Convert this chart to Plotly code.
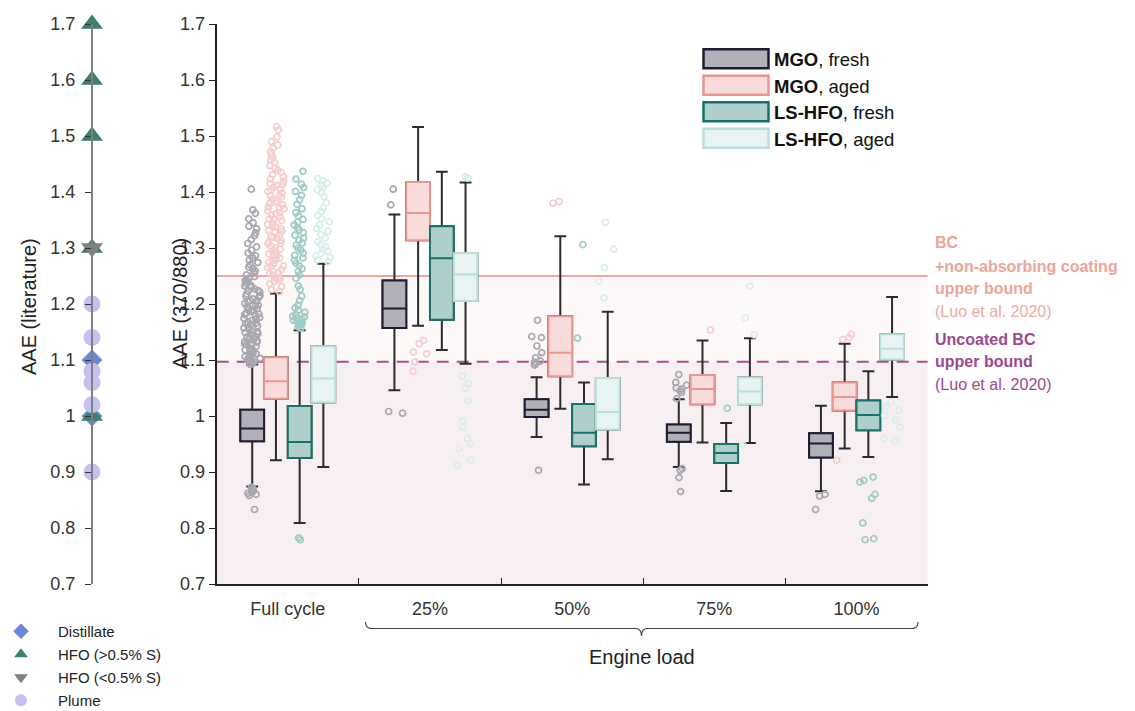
import plotly.graph_objects as go

# ---------------- data ----------------
categories = ["Full cycle", "25%", "50%", "75%", "100%"]
series_names = ["MGO fresh", "MGO aged", "LS-HFO fresh", "LS-HFO aged"]

mgo_fresh_q1 = [0.955, 1.157, 0.998, 0.954, 0.926]
mgo_fresh_med = [0.9775, 1.192, 1.011, 0.970, 0.951]
mgo_fresh_q3 = [1.011, 1.242, 1.030, 0.985, 0.969]
mgo_fresh_lo = [0.874, 1.046, 0.9625, 0.909, 0.8655]
mgo_fresh_hi = [1.092, 1.360, 1.069, 1.030, 1.0185]

mgo_aged_q1 = [1.031, 1.314, 1.071, 1.021, 1.010]
mgo_aged_med = [1.062, 1.3625, 1.113, 1.048, 1.034]
mgo_aged_q3 = [1.105, 1.418, 1.178, 1.073, 1.060]
mgo_aged_lo = [0.921, 1.161, 1.013, 0.9525, 0.942]
mgo_aged_hi = [1.2186, 1.516, 1.321, 1.1346, 1.129]

ls_fresh_q1 = [0.925, 1.172, 0.946, 0.916, 0.9745]
ls_fresh_med = [0.9536, 1.2816, 0.970, 0.934, 1.002]
ls_fresh_q3 = [1.018, 1.339, 1.0214, 0.950, 1.0275]
ls_fresh_lo = [0.809, 1.118, 0.8775, 0.866, 0.927]
ls_fresh_hi = [1.153, 1.436, 1.0596, 0.9875, 1.080]

ls_aged_q1 = [1.024, 1.2054, 0.9757, 1.021, 1.1007]
ls_aged_med = [1.0668, 1.2525, 1.007, 1.0436, 1.120]
ls_aged_q3 = [1.1245, 1.291, 1.068, 1.0686, 1.146]
ls_aged_lo = [0.909, 1.0935, 0.9227, 0.952, 1.034]
ls_aged_hi = [1.272, 1.4168, 1.186, 1.1388, 1.2125]

# outliers
mgo_fresh_out = {
    "Full cycle": [1.092, 1.094, 1.096, 1.097, 1.099, 1.101, 1.103, 1.104, 1.106, 1.108, 1.110,
                   1.111, 1.113, 1.116, 1.118, 1.119, 1.121, 1.124, 1.126, 1.127, 1.129, 1.132,
                   1.133, 1.134, 1.137, 1.139, 1.141, 1.142, 1.145, 1.147, 1.149, 1.150, 1.152,
                   1.155, 1.157, 1.158, 1.161, 1.163, 1.165, 1.166, 1.168, 1.171, 1.173, 1.174,
                   1.176, 1.179, 1.181, 1.182, 1.184, 1.187, 1.189, 1.190, 1.192, 1.195, 1.197,
                   1.198, 1.201, 1.204, 1.205, 1.206, 1.209, 1.212, 1.214, 1.215, 1.218, 1.221,
                   1.223, 1.224, 1.227, 1.230, 1.232, 1.233, 1.236, 1.239, 1.241, 1.242, 1.246,
                   1.249, 1.252, 1.256, 1.259, 1.263, 1.266, 1.270, 1.274, 1.278, 1.282, 1.286,
                   1.291, 1.296, 1.302, 1.308, 1.315, 1.322, 1.327, 1.334, 1.339, 1.345, 1.352,
                   1.362, 1.368, 1.405,
                   0.873, 0.870, 0.868, 0.866, 0.864, 0.862, 0.860, 0.858, 0.833],
    "25%": [1.405, 1.377, 1.008, 1.005],
    "50%": [1.171, 1.142, 1.140, 1.125, 1.113, 1.104, 1.098, 1.096, 1.094, 1.091, 0.903],
    "75%": [1.074, 1.060, 1.055, 1.050, 1.048, 1.045, 1.042, 1.031, 0.906, 0.903, 0.890, 0.865],
    "100%": [0.860, 0.857, 0.833],
}
mgo_aged_out = {
    "Full cycle": [1.222, 1.226, 1.231, 1.236, 1.240, 1.244, 1.246, 1.247, 1.251, 1.254, 1.256,
                   1.258, 1.261, 1.265, 1.267, 1.268, 1.272, 1.275, 1.277, 1.279, 1.282, 1.286,
                   1.288, 1.289, 1.293, 1.296, 1.298, 1.300, 1.303, 1.307, 1.309, 1.310, 1.314,
                   1.317, 1.319, 1.321, 1.324, 1.328, 1.330, 1.331, 1.335, 1.338, 1.340, 1.342,
                   1.345, 1.349, 1.351, 1.352, 1.356, 1.359, 1.361, 1.363, 1.366, 1.370, 1.372,
                   1.373, 1.377, 1.380, 1.382, 1.384, 1.387, 1.391, 1.393, 1.394, 1.398, 1.401,
                   1.403, 1.405, 1.408, 1.412, 1.414, 1.415, 1.419, 1.423, 1.427, 1.431, 1.435,
                   1.439, 1.443, 1.447, 1.452, 1.457, 1.462, 1.467, 1.472, 1.478, 1.484, 1.490,
                   1.498, 1.511, 1.517],
    "25%": [1.135, 1.129, 1.114, 1.111, 1.0965, 1.080],
    "50%": [1.383, 1.380],
    "75%": [1.1536],
    "100%": [1.146, 1.140, 1.137, 0.921],
}
ls_fresh_out = {
    "Full cycle": [1.157, 1.159, 1.160, 1.163, 1.164, 1.166, 1.169, 1.171, 1.172, 1.175, 1.177,
                   1.178, 1.181, 1.185, 1.189, 1.193, 1.198, 1.206, 1.214, 1.226, 1.232, 1.246,
                   1.252, 1.258, 1.263, 1.268, 1.273, 1.278, 1.282, 1.287, 1.291, 1.296, 1.300,
                   1.305, 1.309, 1.314, 1.318, 1.323, 1.327, 1.332, 1.336, 1.341, 1.346, 1.351,
                   1.357, 1.363, 1.370, 1.378, 1.386, 1.394, 1.401, 1.408, 1.414, 1.423, 1.437,
                   0.782, 0.779],
    "25%": [],
    "50%": [1.306, 1.139],
    "75%": [1.0138],
    "100%": [0.891, 0.885, 0.882, 0.860, 0.853, 0.809, 0.781, 0.779],
}
ls_aged_out = {
    "Full cycle": [1.276, 1.279, 1.283, 1.286, 1.290, 1.294, 1.298, 1.302, 1.306, 1.311, 1.318,
                   1.324, 1.330, 1.335, 1.341, 1.347, 1.352, 1.358, 1.365, 1.372, 1.381, 1.392,
                   1.399, 1.404, 1.408, 1.412, 1.416, 1.420, 1.424],
    "25%": [1.427, 1.425, 1.071, 1.058, 1.049, 1.027, 0.991, 0.980, 0.960, 0.951, 0.942,
            0.921, 0.912],
    "50%": [1.346, 1.298, 1.265, 1.241, 1.211],
    "75%": [1.2316, 1.175, 1.145, 0.948],
    "100%": [1.025, 1.016, 1.010, 1.001, 0.994, 0.980, 0.960, 0.955],
}

# literature AAE values (left panel)
lit_distillate = [1.1, 1.0]
lit_hfo_high = [1.7, 1.6, 1.5, 1.3, 1.0]
lit_hfo_low = [1.3]
lit_plume = [1.2, 1.14, 1.08, 1.06, 1.02, 0.9]

bound_coated = 1.25
bound_uncoated = 1.097

tick_vals = [0.7, 0.8, 0.9, 1.0, 1.1, 1.2, 1.3, 1.4, 1.5, 1.6, 1.7]
tick_text = ["0.7", "0.8", "0.9", "1", "1.1", "1.2", "1.3", "1.4", "1.5", "1.6", "1.7"]

# ---------------- styles ----------------
# the page body keeps an 8px margin, so the figure is 8px smaller and offset
OFF = 8
W, H = 1135 - OFF, 711 - OFF
FONT = "Liberation Sans, Arial, Helvetica, sans-serif"
fills = ["#b1b0b8", "#f8dcdc", "#afcfcc", "#e7f4f3"]
edges = ["#1f1b33", "#ea968f", "#17736a", "#b9dfdb"]
point_cols = ["#a8a7af", "#f6cdcd", "#a0cac6", "#d8eeec"]
whisker_col = "#2b2b2b"


def px(x):
    return (x - OFF) / W


def py(y):
    return 1 - (y - OFF) / H


stats = [
    (mgo_fresh_q1, mgo_fresh_med, mgo_fresh_q3, mgo_fresh_lo, mgo_fresh_hi, mgo_fresh_out),
    (mgo_aged_q1, mgo_aged_med, mgo_aged_q3, mgo_aged_lo, mgo_aged_hi, mgo_aged_out),
    (ls_fresh_q1, ls_fresh_med, ls_fresh_q3, ls_fresh_lo, ls_fresh_hi, ls_fresh_out),
    (ls_aged_q1, ls_aged_med, ls_aged_q3, ls_aged_lo, ls_aged_hi, ls_aged_out),
]

fig = go.Figure()

for i, (q1, med, q3, lo, hi, outs) in enumerate(stats):
    og = series_names[i]
    fig.add_trace(go.Box(
        x=categories, q1=q1, median=med, q3=q3, lowerfence=lo, upperfence=hi,
        offsetgroup=og, fillcolor=fills[i], line=dict(color=whisker_col, width=2),
        whiskerwidth=0.5, boxpoints=False, showlegend=False, hoverinfo="skip",
        xaxis="x", yaxis="y"))
    fig.add_trace(go.Box(
        x=categories, q1=q1, median=med, q3=q3, lowerfence=q1, upperfence=q3,
        offsetgroup=og, fillcolor=fills[i], line=dict(color=edges[i], width=2),
        whiskerwidth=0, boxpoints=False, showlegend=False, hoverinfo="skip",
        xaxis="x", yaxis="y"))
    ox, oy = [], []
    for c in categories:
        ox += [c] * len(outs[c])
        oy += outs[c]
    fig.add_trace(go.Box(
        x=ox, y=oy, offsetgroup=og, boxpoints="all", jitter=0.75, pointpos=0,
        fillcolor="rgba(0,0,0,0)", line=dict(color="rgba(0,0,0,0)", width=0),
        marker=dict(symbol="circle-open", size=6, color=point_cols[i], line=dict(width=1.7)),
        showlegend=False, hoverinfo="skip", xaxis="x", yaxis="y"))

# literature panel
lit = [
    ("Distillate", lit_distillate, "diamond", "#6a87d8", 16),
    ("HFO (>0.5% S)", lit_hfo_high, "triangle-up", "#3c7f6d", 19),
    ("HFO (<0.5% S)", lit_hfo_low, "triangle-down", "#7f7f7f", 19),
    ("Plume", lit_plume, "circle", "#c4c0ef", 17),
]
for name, vals, sym, col, sz in lit:
    fig.add_trace(go.Scatter(
        x=[0] * len(vals), y=vals, mode="markers", name=name, legendgroup=name,
        marker=dict(symbol=sym, color=col, size=sz, line=dict(width=0)),
        xaxis="x2", yaxis="y2", cliponaxis=False, hoverinfo="skip"))

# ---------------- shapes ----------------
shapes = [
    dict(type="rect", xref="x domain", yref="y", x0=0, x1=1, y0=0.7, y1=bound_uncoated,
         fillcolor="#f8eff3", line=dict(width=0), layer="below"),
    dict(type="rect", xref="x domain", yref="y", x0=0, x1=1, y0=bound_uncoated, y1=bound_coated,
         fillcolor="#fdf9f9", line=dict(width=0), layer="below"),
    dict(type="line", xref="x domain", yref="y", x0=0, x1=1, y0=bound_coated, y1=bound_coated,
         line=dict(color="#f0a69d", width=2), layer="below"),
    dict(type="line", xref="x domain", yref="y", x0=0, x1=1, y0=bound_uncoated, y1=bound_uncoated,
         line=dict(color="#a04f91", width=2, dash="12px,8px"), layer="below"),
]

bx0, bx1, bxc = 365.5, 918.0, 641.5
y_end, y_mid, y_tip = 622.0, 628.5, 636.0
brace = (f"M {px(bx0)},{py(y_end)} Q {px(bx0)},{py(y_mid)} {px(bx0 + 6)},{py(y_mid)} "
         f"L {px(bxc - 6)},{py(y_mid)} Q {px(bxc)},{py(y_mid)} {px(bxc)},{py(y_tip)} "
         f"Q {px(bxc)},{py(y_mid)} {px(bxc + 6)},{py(y_mid)} "
         f"L {px(bx1 - 6)},{py(y_mid)} Q {px(bx1)},{py(y_mid)} {px(bx1)},{py(y_end)}")
shapes.append(dict(type="path", xref="paper", yref="paper", path=brace,
                   line=dict(color="#444444", width=1.2)))

leg_y = [58.7, 85.3, 111.7, 138.3]
for i in range(4):
    shapes.append(dict(type="rect", xref="paper", yref="paper",
                       x0=px(703.5), x1=px(768.5), y0=py(leg_y[i] - 9.5), y1=py(leg_y[i] + 9.5),
                       fillcolor=fills[i], line=dict(color=edges[i], width=2.5)))

annotations = []
leg_text = ["<b>MGO</b>, fresh", "<b>MGO</b>, aged", "<b>LS-HFO</b>, fresh", "<b>LS-HFO</b>, aged"]
for i in range(4):
    annotations.append(dict(xref="paper", yref="paper", x=px(772), y=py(leg_y[i] + 1),
                            text=leg_text[i], showarrow=False, xanchor="left", yanchor="middle",
                            font=dict(family=FONT, size=18.5, color="#111111")))

right_lines = [
    ("<b>BC</b>", 242.7, "#eda597"),
    ("<b>+non-absorbing coating</b>", 266.0, "#eda597"),
    ("<b>upper bound</b>", 288.5, "#eda597"),
    ("(Luo et al. 2020)", 311.7, "#f0aaa2"),
    ("<b>Uncoated BC</b>", 339.3, "#9b4a8d"),
    ("<b>upper bound</b>", 361.7, "#9b4a8d"),
    ("(Luo et al. 2020)", 385.0, "#9b4a8d"),
]
for t, yy, c in right_lines:
    annotations.append(dict(xref="paper", yref="paper", x=px(933), y=py(yy), text=t,
                            showarrow=False, xanchor="left", yanchor="middle",
                            font=dict(family=FONT, size=16, color=c)))

annotations += [
    dict(xref="paper", yref="paper", x=px(180), y=py(304), text="AAE (370/880)", textangle=-90,
         showarrow=False, xanchor="center", yanchor="middle",
         font=dict(family=FONT, size=20, color="#222222")),
    dict(xref="paper", yref="paper", x=px(29), y=py(307), text="AAE (literature)", textangle=-90,
         showarrow=False, xanchor="center", yanchor="middle",
         font=dict(family=FONT, size=20, color="#222222")),
    dict(xref="paper", yref="paper", x=px(641.5), y=py(657), text="Engine load",
         showarrow=False, xanchor="center", yanchor="middle",
         font=dict(family=FONT, size=20, color="#222222")),
]

fig.update_layout(
    width=W, height=H,
    margin=dict(l=0, r=0, t=0, b=0, autoexpand=False),
    paper_bgcolor="white", plot_bgcolor="rgba(0,0,0,0)",
    boxmode="group", boxgap=0.333, boxgroupgap=0.0,
    font=dict(family=FONT, size=18, color="#333333"),
    xaxis=dict(domain=[px(216.7), px(927.6)], type="category", categoryorder="array",
               categoryarray=categories, range=[-0.5, 4.5], showline=True,
               linecolor="#222222", linewidth=1.5, ticks="inside", tickson="boundaries",
               ticklen=6, tickcolor="#222222", showgrid=False, zeroline=False,
               tickfont=dict(family=FONT, size=18, color="#333333"), ticklabelstandoff=8,
               anchor="y", fixedrange=True, automargin=False),
    yaxis=dict(domain=[py(584), py(24)], range=[0.7, 1.7], tickvals=tick_vals, ticktext=tick_text,
               showline=True, linecolor="#222222", linewidth=2, ticks="outside", ticklen=6,
               tickcolor="#222222", showgrid=False, zeroline=False, anchor="x", automargin=False,
               tickfont=dict(family=FONT, size=18, color="#333333")),
    xaxis2=dict(domain=[px(72), px(112)], range=[-1, 1], visible=False, anchor="y2"),
    yaxis2=dict(domain=[py(584), py(24)], range=[0.7, 1.7], tickvals=tick_vals, ticktext=tick_text,
                anchor="free", position=px(92), showline=True, linecolor="#808080",
                linewidth=2, ticks="outside", ticklen=6, tickcolor="#333333", showgrid=False,
                zeroline=False, ticklabelstandoff=6, automargin=False,
                tickfont=dict(family=FONT, size=18, color="#333333")),
    yaxis3=dict(domain=[py(584), py(24)], range=[0.7, 1.7], tickvals=tick_vals,
                overlaying="y2", anchor="free", position=px(92), showline=False,
                ticks="inside", ticklen=6, tickcolor="#333333", showticklabels=False,
                showgrid=False, zeroline=False),
    showlegend=True,
    legend=dict(x=px(-16), y=py(615), xanchor="left", yanchor="top", bgcolor="rgba(0,0,0,0)",
                font=dict(family=FONT, size=15, color="#222222"), tracegroupgap=0.5,
                itemwidth=64, itemsizing="constant"),
    shapes=shapes, annotations=annotations,
)

fig.write_html("out.html")
